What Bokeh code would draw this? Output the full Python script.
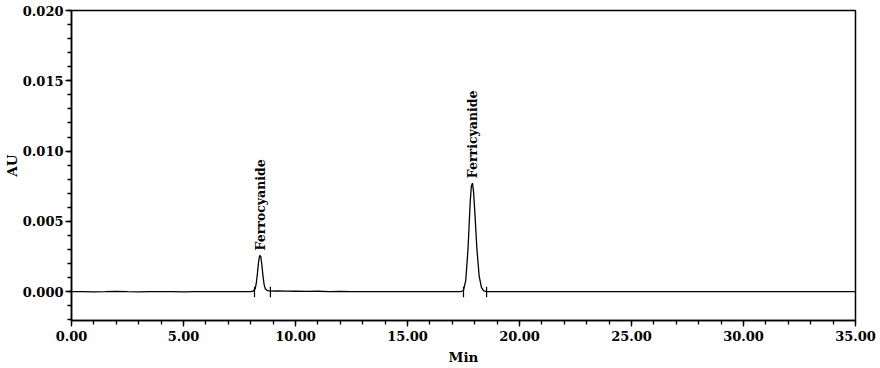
import math
from bokeh.plotting import figure
from bokeh.models import ColumnDataSource, Range1d, SingleIntervalTicker, NumeralTickFormatter
from bokeh.core.properties import value
from bokeh.embed import file_html
from bokeh.resources import INLINE

# Chromatogram trace (retention time in min, absorbance in AU)
time_min = [0.0, 0.5, 1.0, 1.5, 2.0, 2.5, 3.0, 3.5, 4.0, 4.5, 5.0, 5.5, 6.0, 6.5, 7.0, 7.5, 8.0,
            8.10, 8.20, 8.25, 8.30, 8.35, 8.40, 8.45, 8.50, 8.55, 8.60, 8.65, 8.75, 8.90,
            9.2, 9.6, 10.0, 10.5, 11.0, 11.5, 12.0, 12.5, 13.0, 13.5, 14.0, 14.5, 15.0,
            15.5, 16.0, 16.5, 17.0, 17.4,
            17.50, 17.60, 17.70, 17.80, 17.85, 17.90, 17.95, 18.00, 18.10, 18.20, 18.30, 18.40, 18.55,
            19.0, 19.5, 20.0, 21.0, 22.0, 23.0, 24.0, 25.0, 26.0, 27.0, 28.0, 29.0, 30.0,
            31.0, 32.0, 33.0, 34.0, 35.0]
absorbance = [0.00000, 0.00001, -0.00001, 0.00000, 0.00002, 0.00000, -0.00001, 0.00001, 0.00000,
              0.00001, -0.00001, 0.00000, 0.00001, 0.00000, 0.00001, 0.00000, 0.00001,
              0.00003, 0.00020, 0.00060, 0.00130, 0.00210, 0.00258, 0.00250, 0.00190, 0.00110,
              0.00050, 0.00020, 0.00007, 0.00004,
              0.00005, 0.00004, 0.00003, 0.00002, 0.00003, 0.00001, 0.00002, 0.00001, 0.00000,
              0.00001, 0.00000, 0.00001, 0.00000, 0.00001, 0.00000, 0.00001, 0.00000, 0.00001,
              0.00010, 0.00080, 0.00300, 0.00640, 0.00750, 0.00772, 0.00710, 0.00580, 0.00300,
              0.00110, 0.00030, 0.00006, 0.00000,
              0.00001, 0.00000, 0.00001, 0.00000, 0.00000, 0.00001, 0.00000, 0.00000, 0.00001,
              0.00000, 0.00000, 0.00001, 0.00000, 0.00000, 0.00000, 0.00001, 0.00000, 0.00000]

# Peak labels and apex positions
peak_names = ["Ferrocyanide", "Ferricyanide"]
peak_time = [8.42, 17.90]
peak_height = [0.00258, 0.00772]

# Integration start / end markers
marker_time = [8.17, 8.88, 17.50, 18.53]

x_ticks_label = "Min"
y_ticks_label = "AU"

FONT = "DejaVu Serif"

p = figure(width=880, height=368, output_backend="svg", toolbar_location=None,
           x_range=Range1d(0, 35), y_range=Range1d(-0.00205, 0.020),
           min_border_left=71, min_border_right=25, min_border_top=10, min_border_bottom=48)
p.background_fill_color = "white"
p.border_fill_color = "white"
p.outline_line_color = "black"
p.outline_line_width = 1.5
p.xgrid.visible = False
p.ygrid.visible = False

p.line(time_min, absorbance, line_color="black", line_width=1.3)

mk_src = ColumnDataSource(dict(x=marker_time, y0=[-0.00040] * 4, y1=[0.00035] * 4))
p.segment(x0="x", y0="y0", x1="x", y1="y1", source=mk_src, line_color="black", line_width=1.2)

lbl_src = ColumnDataSource(dict(x=peak_time, y=peak_height, t=peak_names))
p.text(x="x", y="y", text="t", source=lbl_src, angle=math.pi / 2, y_offset=-5,
       text_align="left", text_baseline="middle", text_font=value(FONT),
       text_font_size="12.5px", text_font_style="bold", text_color="black")

for ax in (p.xaxis[0], p.yaxis[0]):
    ax.axis_line_color = "black"
    ax.axis_line_width = 1.5
    ax.major_tick_line_color = "black"
    ax.minor_tick_line_color = "black"
    ax.major_tick_line_width = 1.3
    ax.minor_tick_line_width = 1.3
    ax.major_tick_in = 0
    ax.major_tick_out = 6
    ax.minor_tick_in = 0
    ax.minor_tick_out = 4
    ax.major_label_text_font = FONT
    ax.major_label_text_font_style = "bold"
    ax.major_label_text_font_size = "13px"
    ax.major_label_text_color = "black"
    ax.axis_label_text_font = FONT
    ax.axis_label_text_font_style = "bold"
    ax.axis_label_text_font_size = "13.5px"
    ax.axis_label_text_color = "black"

p.xaxis.ticker = SingleIntervalTicker(interval=5, num_minor_ticks=5)
p.yaxis.ticker = SingleIntervalTicker(interval=0.005, num_minor_ticks=5)
p.xaxis.formatter = NumeralTickFormatter(format="0.00")
p.yaxis.formatter = NumeralTickFormatter(format="0.000")
p.xaxis.axis_label = x_ticks_label
p.yaxis.axis_label = y_ticks_label
p.xaxis.major_label_standoff = 4
p.yaxis.major_label_standoff = 2
p.xaxis.axis_label_standoff = 5
p.yaxis.axis_label_standoff = 0

open("out.html", "w").write(file_html(p, INLINE))
